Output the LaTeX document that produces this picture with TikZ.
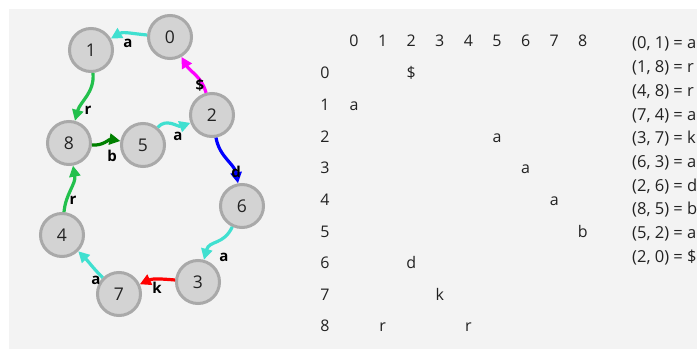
\documentclass[tikz,border=0pt]{standalone}
\usepackage{fontspec}
\setmainfont{Open Sans}
\usetikzlibrary{arrows.meta}
\definecolor{bg}{HTML}{F3F3F3}
\definecolor{nfill}{HTML}{D3D3D3}
\definecolor{nborder}{HTML}{A9A9A9}
\definecolor{turq}{HTML}{40E0D0}
\definecolor{grn}{HTML}{22C04C}
\definecolor{dgrn}{HTML}{008000}
\definecolor{mag}{HTML}{FF00FF}
\definecolor{txt}{HTML}{222222}
\begin{document}
\begin{tikzpicture}[x=1pt,y=1pt,
  vtx/.style={circle, fill=nfill, draw=nborder, line width=3pt, minimum size=43pt, inner sep=0pt, font=\fontsize{17.5}{17.5}\selectfont, text=txt},
  edge/.style={line width=3.2pt, -{Triangle[length=11pt,width=11pt]}},
  elab/.style={font=\bfseries\fontsize{15}{15}\selectfont, text=black, inner sep=0pt},
  cell/.style={font=\fontsize{16}{16}\selectfont, text=txt, text height=11pt, text depth=3pt, inner sep=0pt},
  lst/.style={font=\fontsize{16.5}{16.5}\selectfont, text=txt, text height=11pt, text depth=3pt, inner sep=0pt, anchor=west},
  ]
\useasboundingbox (0,0) rectangle (697,349);
\fill[white] (0,0) rectangle (697,349);
\fill[bg] (9,0) rectangle (697,340);

% vertices
\node[vtx] (n0) at (170,312) {0};
\node[vtx] (n1) at (91,299) {1};
\node[vtx] (n2) at (212,234) {2};
\node[vtx] (n8) at (69,206) {8};
\node[vtx] (n5) at (143,204) {5};
\node[vtx] (n6) at (242,143) {6};
\node[vtx] (n4) at (62,114) {4};
\node[vtx] (n3) at (198,67) {3};
\node[vtx] (n7) at (119,55) {7};

% edges
\draw[edge, turq] (n0) to[out=175, in=30] (n1);
\draw[edge, grn] (n1) to[out=-85, in=75] (n8);
\draw[edge, dgrn] (n8) to[out=-5, in=170] (n5);
\draw[edge, turq] (n5) to[out=50, in=200] (n2);
\draw[edge, mag] (n2) to[out=105, in=-60] (n0);
\draw[edge, blue] (n2) to[out=-80, in=100] (n6);
\draw[edge, turq] (n6) to[out=-115, in=75, looseness=1.2] (n3);
\draw[edge, red] (n3) to[out=175, in=25] (n7);
\draw[edge, turq] (n7) to[out=135, in=-45] (n4);
\draw[edge, grn] (n4) to[out=85, in=-80] (n8);

% edge labels
\node[elab] (la1) at (128,306) {a};
\node[elab] (lr1) at (88,239) {r};
\node[elab] (lb) at (112,193) {b};
\node[elab] (la2) at (178,213) {a};
\node[elab] (ld) at (200,264) {\$};
\node[elab] (ldd) at (236,177) {d};
\node[elab] (la3) at (224,92) {a};
\node[elab] (lk) at (157,61) {k};
\node[elab] (la4) at (96,69) {a};
\node[elab] (lr2) at (73,149) {r};

% matrix headers
\foreach \j in {0,...,8} {
  \node[cell] (h\j) at ({354+\j*28.6},306) {\j};
  \node[cell] (r\j) at (325,{274-\j*31.6}) {\j};
}
% matrix entries
\node[cell] (c02) at ({354+2*28.6},{274-0*31.6}) {\$};
\node[cell] (c10) at ({354+0*28.6},{274-1*31.6}) {a};
\node[cell] (c25) at ({354+5*28.6},{274-2*31.6}) {a};
\node[cell] (c36) at ({354+6*28.6},{274-3*31.6}) {a};
\node[cell] (c47) at ({354+7*28.6},{274-4*31.6}) {a};
\node[cell] (c58) at ({354+8*28.6},{274-5*31.6}) {b};
\node[cell] (c62) at ({354+2*28.6},{274-6*31.6}) {d};
\node[cell] (c73) at ({354+3*28.6},{274-7*31.6}) {k};
\node[cell] (c81) at ({354+1*28.6},{274-8*31.6}) {r};
\node[cell] (c84) at ({354+4*28.6},{274-8*31.6}) {r};

% list
\node[lst] (l0) at (632,{304-0*23.7}) {(0, 1) = a};
\node[lst] (l1) at (632,{304-1*23.7}) {(1, 8) = r};
\node[lst] (l2) at (632,{304-2*23.7}) {(4, 8) = r};
\node[lst] (l3) at (632,{304-3*23.7}) {(7, 4) = a};
\node[lst] (l4) at (632,{304-4*23.7}) {(3, 7) = k};
\node[lst] (l5) at (632,{304-5*23.7}) {(6, 3) = a};
\node[lst] (l6) at (632,{304-6*23.7}) {(2, 6) = d};
\node[lst] (l7) at (632,{304-7*23.7}) {(8, 5) = b};
\node[lst] (l8) at (632,{304-8*23.7}) {(5, 2) = a};
\node[lst] (l9) at (632,{304-9*23.7}) {(2, 0) = \$};
\end{tikzpicture}
\end{document}
